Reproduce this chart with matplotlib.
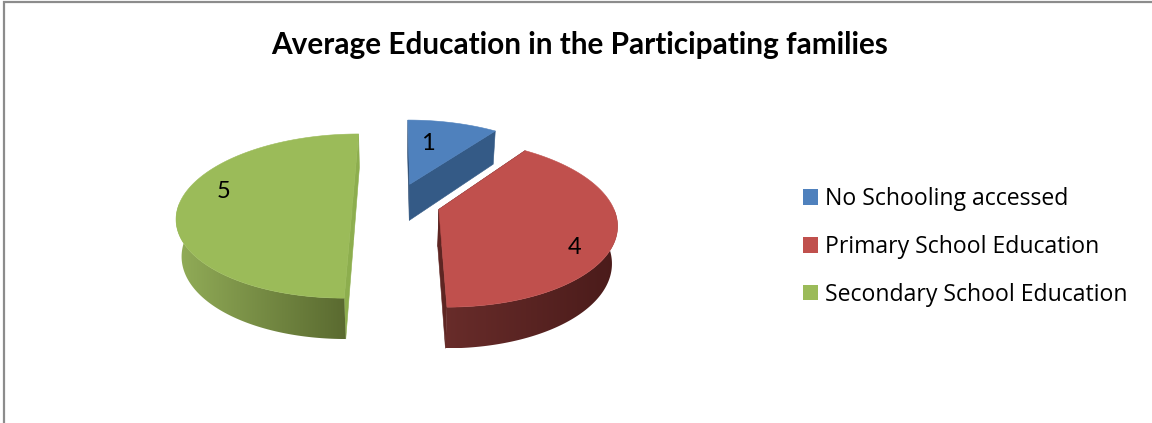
import numpy as np
import matplotlib
matplotlib.use('Agg')
import matplotlib.pyplot as plt
from matplotlib.colors import to_rgb
from matplotlib.patches import Patch, Polygon

categories = ['No Schooling accessed', 'Primary School Education', 'Secondary School Education']
values = [1, 4, 5]
top_colors = ['#4F81BD', '#C0504D', '#9BBB59']
# wall shade at the left and the right end of each slice
wall_colors = [('#345A86', '#345A86'), ('#682C2A', '#4A1B1A'), ('#92AD58', '#5A6A30')]
cut_colors = [('#2B4A70', '#345A86'), ('#4A1B1A', '#5E2522'), ('#8DAE4E', '#8DAE4E')]

CX, CY = 396.5, 203
SX, SY, SZ = 173, 80, 37.8
PERSP, DROP = 0.159, 0.025
EXPLODE = 0.254


def project(x, y, z):
    # y goes away from the viewer, z = 1 is the bottom of the pie
    w = 1 + PERSP * y + DROP * z
    return CX + SX * x / w, CY - (SY * y - SZ * z) / w


def ring(theta, ox, oy, z):
    return np.column_stack(project(ox + np.sin(theta), oy + np.cos(theta), z * np.ones_like(theta)))


fig = plt.figure(figsize=(11.52, 4.23), dpi=100)
ax = fig.add_axes([0, 0, 1, 1])
ax.axis('off')

# chart frame, only top and left are in view
ax.plot([4, 4, 1152], [423, 2, 2], color='#8C8C8C', lw=1.6, solid_joinstyle='miter')

edges = np.cumsum([0] + values) / sum(values) * 2 * np.pi
for i in range(len(values)):
    a0, a1 = edges[i], edges[i + 1]
    mid = (a0 + a1) / 2
    ox, oy = EXPLODE * np.sin(mid), EXPLODE * np.cos(mid)
    theta = np.linspace(a0, a1, 181)
    top = ring(theta, ox, oy, 0)
    low = ring(theta, ox, oy, 1)
    apex_top = np.array(project(ox, oy, 0))
    apex_low = np.array(project(ox, oy, 1))

    # the two flat cut faces
    ax.add_patch(Polygon([apex_top, top[0], low[0], apex_low], fc=cut_colors[i][0], ec=cut_colors[i][0], lw=0.4, zorder=2 + i))
    ax.add_patch(Polygon([apex_top, top[-1], low[-1], apex_low], fc=cut_colors[i][1], ec=cut_colors[i][1], lw=0.4, zorder=2 + i))

    # outer wall: only the front half shows, gradient clipped to its outline
    front = np.cos(theta) <= 0
    if front.any():
        wall = np.vstack([top[front], low[front][::-1]])
        c0, c1 = np.array(to_rgb(wall_colors[i][0])), np.array(to_rgb(wall_colors[i][1]))
        ramp = (c0 + (c1 - c0) * np.linspace(0, 1, 256)[:, None])[None, :, :]
        outline = Polygon(wall, fc='none', ec='none', transform=ax.transData)
        ax.add_patch(outline)
        img = ax.imshow(ramp, extent=[wall[:, 0].min(), wall[:, 0].max(), wall[:, 1].max(), wall[:, 1].min()],
                        aspect='auto', zorder=2 + i, interpolation='bilinear')
        img.set_clip_path(outline)

    ax.add_patch(Polygon(np.vstack([apex_top, top]), fc=top_colors[i], ec=top_colors[i], lw=0.4, zorder=2 + i))

ax.set_xlim(0, 1152)
ax.set_ylim(423, 0)

ax.text(428, 144, str(values[0]), fontsize=17, family='Lato', ha='center', va='center', zorder=9)
ax.text(575, 248, str(values[1]), fontsize=17, family='Lato', ha='center', va='center', zorder=9)
ax.text(224, 192, str(values[2]), fontsize=17, family='Lato', ha='center', va='center', zorder=9)

ax.text(580, 45, 'Average Education in the Participating families', fontsize=21.4, family='Lato',
        weight='bold', ha='center', va='center', color='black')

handles = [Patch(fc=c, ec='none') for c in top_colors]
ax.legend(handles, categories, loc='center left', bbox_to_anchor=(803 / 1152, 1 - 247 / 423), frameon=False,
          prop={'family': 'Open Sans', 'size': 16.6}, handlelength=0.65, handleheight=0.65, handletextpad=0.3,
          labelspacing=1.03, borderpad=0, borderaxespad=0)

fig.savefig('out.png', dpi=100)
